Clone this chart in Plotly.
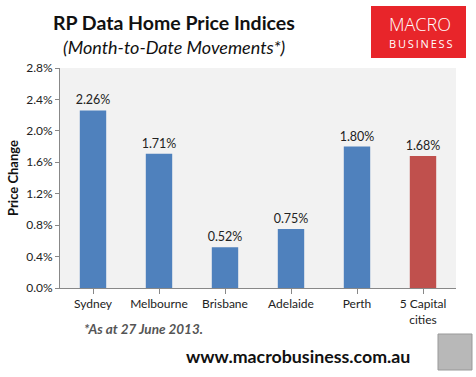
import plotly.graph_objects as go

categories = ["Sydney", "Melbourne", "Brisbane", "Adelaide", "Perth", "5 Capital<br>cities"]
values = [2.26, 1.71, 0.52, 0.75, 1.80, 1.68]
labels = ["2.26%", "1.71%", "0.52%", "0.75%", "1.80%", "1.68%"]
colors = ["#4F81BD"] * 5 + ["#C0504D"]
tick_vals = [0, 0.4, 0.8, 1.2, 1.6, 2.0, 2.4, 2.8]
tick_text = ["0.0%", "0.4%", "0.8%", "1.2%", "1.6%", "2.0%", "2.4%", "2.8%"]

FONT = "Lato, 'Open Sans', sans-serif"
LOGO_FONT = "'Open Sans', sans-serif"
W, H = 476, 377
ml, mr, mt, mb = 60, 20, 68, 89
pw, ph = W - ml - mr, H - mt - mb


def px(x):
    return (x - ml) / pw


def py(y):
    return 1 - (y - mt) / ph


def ann(text, x, y, size, color="#111", xanchor="center", family=FONT, weight=None):
    f = dict(family=family, size=size, color=color)
    if weight:
        f["weight"] = weight
    return dict(text=text, x=px(x), y=py(y), xref="paper", yref="paper",
                xanchor=xanchor, yanchor="middle", showarrow=False, font=f)


def rect(x0, y0, x1, y1, **kw):
    return dict(type="rect", xref="paper", yref="paper",
                x0=px(x0), x1=px(x1), y0=py(y1), y1=py(y0), **kw)


fig = go.Figure(go.Bar(
    x=categories, y=values, marker_color=colors, marker_line_width=0,
    text=labels, textposition="outside", cliponaxis=False, constraintext="none",
    textfont=dict(family=FONT, size=12.5, color="#222"),
))

fig.update_layout(
    width=W, height=H,
    margin=dict(l=ml, r=mr, t=mt, b=mb, autoexpand=False),
    paper_bgcolor="white", plot_bgcolor="#F2F2F2",
    bargap=0.6, showlegend=False,
    font=dict(family=FONT, size=12, color="#222"),
    xaxis=dict(showline=True, linecolor="#888", linewidth=1, ticks="outside",
               ticklen=5, tickcolor="#888", showgrid=False, automargin=False,
               tickfont=dict(family=FONT, size=12, color="#222")),
    yaxis=dict(range=[0, 2.8], tickvals=tick_vals, ticktext=tick_text,
               showline=True, linecolor="#888", linewidth=1, ticks="outside",
               ticklen=4, tickcolor="#888", showgrid=False, zeroline=False,
               automargin=False,
               tickfont=dict(family=FONT, size=12, color="#222"),
               title=dict(text="<b>Price Change</b>", standoff=4,
                          font=dict(family=FONT, size=13, color="#111"))),
    annotations=[
        ann("<b>RP Data Home Price Indices</b>", 174, 22, 19.5),
        ann("<i>(Month-to-Date Movements*)</i>", 174, 47, 18),
        ann("<b><i>*As at 27 June 2013.</i></b>", 82, 329, 13.5, color="#555", xanchor="left"),
        ann("<b>www.macrobusiness.com.au</b>", 298, 356, 17.8),
        ann("MACRO", 420, 24, 18, color="white", family=LOGO_FONT, weight=300),
        ann("B\u2009U\u2009S\u2009I\u2009N\u2009E\u2009S\u2009S", 420, 44, 11,
            color="white", family=LOGO_FONT),
    ],
    shapes=[
        rect(371, 6, 466, 58, fillcolor="#E8252A", line=dict(width=0), layer="above"),
        rect(438, 334, 472, 370, fillcolor="#B8B8B8", line=dict(color="#999", width=1), layer="above"),
    ],
)

fig.write_html("out.html", config={"displayModeBar": False},
               post_script="document.body.style.margin='0';")
